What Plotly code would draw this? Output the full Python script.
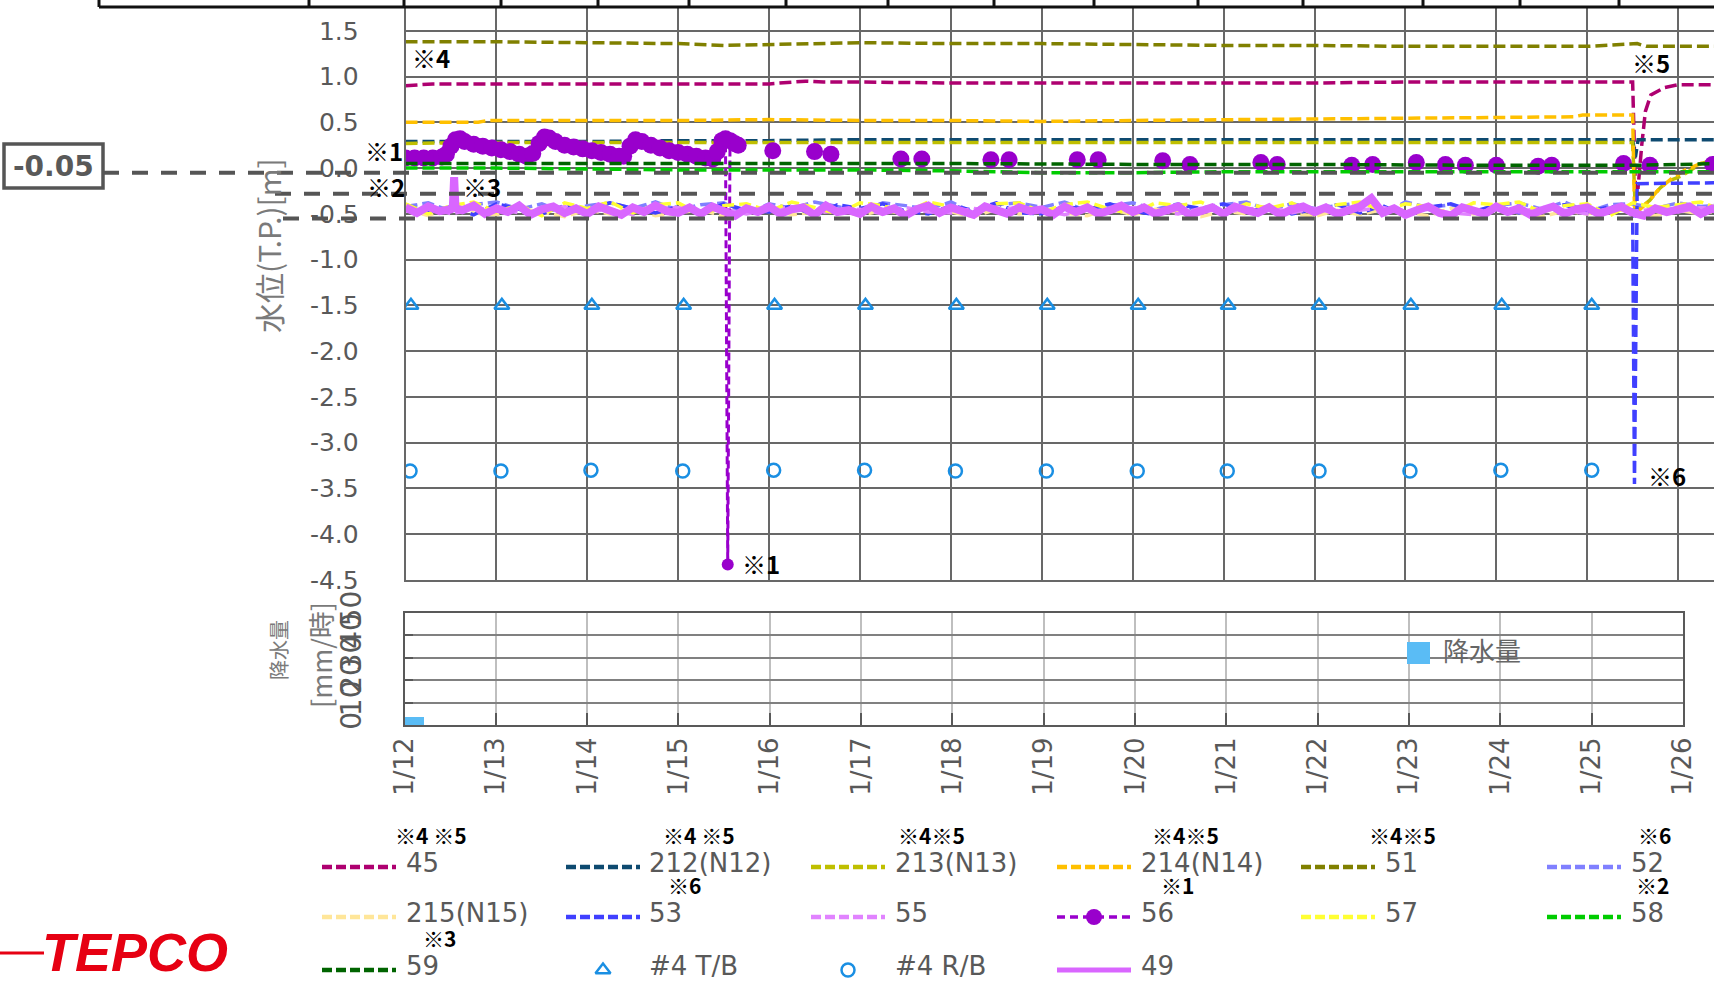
import plotly.graph_objects as go

W, H = 1714, 983

# ---------------- axes labels ----------------
day_ticks = list(range(12, 27))
day_labels = ["1/%d" % d for d in day_ticks]
level_ticks = [1.5, 1.0, 0.5, 0.0, -0.5, -1.0, -1.5, -2.0, -2.5, -3.0, -3.5, -4.0, -4.5]
level_labels = ["%.1f" % v for v in level_ticks]
rain_ticks = [0, 10, 20, 30, 40, 50]

# ---------------- water levels (T.P. m), x = day of January ----------------
t_45 = [12, 12.3, 13, 14, 15, 16, 16.4, 16.6, 17, 18, 19, 20, 21, 22, 23, 24, 25,
        25.50, 25.53, 25.56, 25.60, 25.64, 25.70, 25.85, 26.0, 26.5]
v_45 = [0.90, 0.92, 0.92, 0.92, 0.92, 0.92, 0.95, 0.94, 0.94, 0.93, 0.93, 0.93, 0.93,
        0.93, 0.94, 0.94, 0.94, 0.94, -0.21, -0.21, 0.25, 0.62, 0.80, 0.88, 0.91, 0.91]

t_212 = [12, 13, 14, 15, 16, 17, 18, 19, 20, 21, 22, 23, 24, 25, 25.50, 25.53, 25.56, 26, 26.5]
v_212 = [0.29, 0.29, 0.29, 0.30, 0.30, 0.31, 0.31, 0.31, 0.31, 0.31, 0.31, 0.31, 0.31,
         0.31, 0.31, 0.12, 0.31, 0.31, 0.31]

t_213 = [12, 13, 14, 15, 16, 17, 18, 19, 20, 21, 22, 23, 24, 25, 25.50, 25.53, 25.58,
         25.69, 25.80, 25.88, 26.05, 26.25, 26.5]
v_213 = [0.27, 0.28, 0.28, 0.28, 0.28, 0.28, 0.28, 0.28, 0.28, 0.28, 0.28, 0.28, 0.28,
         0.28, 0.28, -0.48, -0.44, -0.35, -0.22, -0.15, -0.08, 0.05, 0.12]

t_214 = [12, 12.8, 12.9, 15, 16, 17, 18, 19, 20, 21, 22, 23, 24, 24.85, 24.95, 25.50,
         25.52, 25.56, 25.66, 25.78, 25.92, 26.08, 26.25, 26.5]
v_214 = [0.50, 0.50, 0.52, 0.52, 0.53, 0.52, 0.52, 0.51, 0.52, 0.53, 0.54, 0.55, 0.56,
         0.56, 0.58, 0.58, -0.42, -0.47, -0.38, -0.24, -0.12, -0.02, 0.05, 0.09]

t_51 = [12, 13, 14, 15, 15.5, 16, 17, 18, 19, 20, 21, 22, 23, 24, 25, 25.55, 25.65, 26, 26.5]
v_51 = [1.38, 1.38, 1.37, 1.36, 1.34, 1.35, 1.37, 1.36, 1.36, 1.35, 1.34, 1.34, 1.33,
        1.33, 1.33, 1.36, 1.33, 1.33, 1.33]

t_58 = [12, 13, 14, 15, 16, 17, 18, 19, 20, 21, 22, 23, 24, 25, 26, 26.5]
v_58 = [0.00, 0.00, -0.01, -0.02, -0.02, -0.02, -0.03, -0.05, -0.05, -0.04, -0.04,
        -0.04, -0.04, -0.04, -0.04, -0.04]

t_59 = [12, 14, 16, 18, 20, 22, 24, 25.5, 26, 26.5]
v_59 = [0.05, 0.05, 0.05, 0.05, 0.04, 0.04, 0.03, 0.03, 0.04, 0.05]

# 6-hourly readings from 1/12 00:00
v_52 = [-0.42, -0.38, -0.47, -0.40, -0.37, -0.45, -0.39, -0.49, -0.41, -0.38, -0.44, -0.37,
        -0.46, -0.40, -0.38, -0.50, -0.39, -0.44, -0.37, -0.42, -0.48, -0.38, -0.41, -0.45,
        -0.37, -0.49, -0.40, -0.38, -0.43, -0.37, -0.47, -0.41, -0.38, -0.45, -0.39, -0.48,
        -0.40, -0.37, -0.46, -0.39, -0.44, -0.41, -0.38, -0.50, -0.37, -0.43, -0.40, -0.47,
        -0.41, -0.38, -0.45, -0.37, -0.48, -0.40, -0.39, -0.44, -0.38, -0.42, -0.40]
v_215 = [-0.45, -0.52, -0.43, -0.49, -0.51, -0.44, -0.48, -0.53, -0.46, -0.50, -0.43, -0.52,
         -0.49, -0.45, -0.53, -0.47, -0.44, -0.51, -0.48, -0.45, -0.52, -0.46, -0.50, -0.43,
         -0.48, -0.53, -0.45, -0.50, -0.46, -0.49, -0.52, -0.44, -0.51, -0.45, -0.48, -0.53,
         -0.47, -0.50, -0.44, -0.49, -0.53, -0.46, -0.51, -0.45, -0.48, -0.52, -0.44, -0.50,
         -0.45, -0.49, -0.53, -0.47, -0.50, -0.44, -0.48, -0.52, -0.46, -0.50, -0.45]
v_55 = [-0.47, -0.43, -0.50, -0.45, -0.44, -0.49, -0.46, -0.42, -0.48, -0.45, -0.51, -0.44,
        -0.43, -0.47, -0.45, -0.50, -0.46, -0.42, -0.49, -0.47, -0.45, -0.50, -0.43, -0.48,
        -0.49, -0.44, -0.47, -0.42, -0.46, -0.51, -0.45, -0.48, -0.43, -0.47, -0.50, -0.44,
        -0.48, -0.45, -0.42, -0.49, -0.44, -0.50, -0.46, -0.43, -0.47, -0.45, -0.49, -0.51,
        -0.45, -0.48, -0.43, -0.46, -0.50, -0.44, -0.47, -0.45, -0.48, -0.43, -0.46]
v_57 = [-0.39, -0.50, -0.41, -0.37, -0.48, -0.40, -0.52, -0.38, -0.44, -0.37, -0.49, -0.40,
        -0.38, -0.51, -0.41, -0.39, -0.47, -0.37, -0.43, -0.50, -0.38, -0.41, -0.49, -0.37,
        -0.42, -0.51, -0.39, -0.38, -0.48, -0.40, -0.37, -0.45, -0.50, -0.38, -0.41, -0.37,
        -0.49, -0.39, -0.44, -0.38, -0.51, -0.40, -0.37, -0.47, -0.39, -0.42, -0.50, -0.38,
        -0.40, -0.37, -0.48, -0.41, -0.39, -0.52, -0.38, -0.43, -0.40, -0.37, -0.46]
v_53_band = [-0.40, -0.48, -0.42, -0.51, -0.39, -0.45, -0.50, -0.41, -0.47, -0.38, -0.44,
             -0.49, -0.42, -0.50, -0.39, -0.46, -0.48, -0.41, -0.52, -0.40, -0.44, -0.39,
             -0.47, -0.50, -0.41, -0.46, -0.38, -0.49, -0.50, -0.42, -0.45, -0.39, -0.47,
             -0.51, -0.40, -0.44, -0.39, -0.48, -0.42, -0.50, -0.45, -0.40, -0.49, -0.41,
             -0.52, -0.43, -0.39, -0.47, -0.41, -0.49, -0.44, -0.40, -0.48, -0.42, -0.46]
t_53_tail = [25.52, 25.55, 26.0, 26.5]
v_53_tail = [-3.45, -0.17, -0.17, -0.16]

# 3-hourly readings from 1/12 00:00, plus a short-lived rise on 1/12
v_49 = [-0.43, -0.49, -0.42, -0.47, -0.45, -0.46, -0.41, -0.50,
        -0.44, -0.48, -0.41, -0.51, -0.45, -0.42, -0.49, -0.44,
        -0.50, -0.42, -0.46, -0.51, -0.43, -0.48, -0.41, -0.47,
        -0.49, -0.43, -0.50, -0.42, -0.47, -0.52, -0.44, -0.48,
        -0.42, -0.50, -0.45, -0.43, -0.51, -0.41, -0.48, -0.46,
        -0.50, -0.42, -0.48, -0.44, -0.52, -0.45, -0.41, -0.49,
        -0.43, -0.48, -0.51, -0.42, -0.46, -0.50, -0.43, -0.47,
        -0.45, -0.51, -0.42, -0.48, -0.43, -0.50, -0.46, -0.41,
        -0.48, -0.43, -0.50, -0.45, -0.42, -0.51, -0.47, -0.43,
        -0.50, -0.42, -0.46, -0.49, -0.43, -0.51, -0.45, -0.42,
        -0.48, -0.43, -0.50, -0.46, -0.42, -0.33, -0.49, -0.44,
        -0.51, -0.46, -0.42, -0.49, -0.52, -0.43, -0.47, -0.50,
        -0.42, -0.48, -0.44, -0.51, -0.46, -0.42, -0.50, -0.45,
        -0.43, -0.50, -0.46, -0.42, -0.49, -0.52, -0.44, -0.48,
        -0.45, -0.42, -0.50, -0.44, -0.47]
t_49_spike = [12.52, 12.535, 12.55]
v_49_spike = [-0.44, -0.10, -0.44]

# No.56: continuous record, then isolated readings
t_56_run = [12.00, 12.10, 12.20, 12.30, 12.40, 12.45, 12.50, 12.55, 12.60, 12.65, 12.75,
            12.85, 12.95, 13.05, 13.15, 13.25, 13.33, 13.40, 13.47, 13.53, 13.58, 13.65,
            13.75, 13.85, 13.95, 14.05, 14.15, 14.25, 14.35, 14.40, 14.47, 14.53, 14.60,
            14.70, 14.80, 14.90, 15.00, 15.10, 15.20, 15.30, 15.38, 15.43, 15.48, 15.52,
            15.545, 15.57, 15.62, 15.66]
v_56_run = [0.11, 0.11, 0.11, 0.11, 0.12, 0.15, 0.24, 0.31, 0.32, 0.29, 0.26,
            0.24, 0.22, 0.20, 0.18, 0.15, 0.13, 0.16, 0.27, 0.34, 0.33, 0.29,
            0.25, 0.23, 0.21, 0.19, 0.17, 0.15, 0.13, 0.13, 0.24, 0.31, 0.29,
            0.25, 0.22, 0.19, 0.17, 0.15, 0.13, 0.11, 0.10, 0.18, 0.30, 0.32,
            -4.33, 0.30, 0.27, 0.25]
t_56_pts = [16.04, 16.50, 16.68, 17.45, 17.68, 18.44, 18.64, 19.39, 19.62, 20.33, 20.63,
            21.41, 21.59, 22.41, 22.64, 23.12, 23.44, 23.66, 24.00, 24.46, 24.61, 25.40,
            25.69, 26.38]
v_56_pts = [0.19, 0.18, 0.15, 0.10, 0.10, 0.09, 0.09, 0.09, 0.09, 0.08, 0.04,
            0.06, 0.04, 0.03, 0.04, 0.06, 0.04, 0.03, 0.03, 0.02, 0.03, 0.05,
            0.03, 0.04]

# Unit 4 building levels
t_tb = [12.06, 13.06, 14.05, 15.06, 16.06, 17.06, 18.06, 19.06, 20.06, 21.05, 22.05,
        23.06, 24.06, 25.05]
v_tb = [-1.50, -1.50, -1.50, -1.50, -1.50, -1.50, -1.50, -1.50, -1.50, -1.50, -1.50,
        -1.50, -1.50, -1.50]
t_rb = [12.05, 13.05, 14.04, 15.05, 16.05, 17.05, 18.05, 19.05, 20.05, 21.04, 22.05,
        23.05, 24.05, 25.05]
v_rb = [-3.31, -3.31, -3.30, -3.31, -3.30, -3.30, -3.31, -3.31, -3.31, -3.31, -3.31,
        -3.31, -3.30, -3.30]

# hourly rainfall (mm/h)
rain_hour = [0, 1, 2, 3, 4]
rain_mm = [3.6, 3.6, 3.6, 3.6, 3.6]

# reference levels (T.P. m)
ref_levels = [-0.05, -0.28, -0.55]

# ---------------- styling ----------------
GRID = "#686868"
TXT = "#595959"
LAT = "DejaVu Sans"
CJK = "Noto Sans CJK JP"
DASH = "12px,5px"

colors = {
    "45": "#AE0070", "212(N12)": "#0E4A70", "213(N13)": "#BFBF00", "214(N14)": "#FFC000",
    "51": "#808000", "52": "#8080FF", "215(N15)": "#FFE699", "53": "#4040FF",
    "55": "#E183FF", "56": "#9900CC", "57": "#FFFF33", "58": "#00CC00", "59": "#006400",
    "#4 T/B": "#1A8FE3", "#4 R/B": "#1A8FE3", "49": "#D966FF",
}


def px_x(x):
    return x / W


def px_y(y):
    return 1 - y / H


t6 = [12 + 0.25 * i for i in range(len(v_52))]
t_53 = [12 + 0.25 * i for i in range(len(v_53_band))] + t_53_tail
v_53 = v_53_band + v_53_tail

pairs_49 = sorted(list(zip([12 + 0.125 * i for i in range(len(v_49))], v_49)) +
                  list(zip(t_49_spike, v_49_spike)))
t_49 = [p[0] for p in pairs_49]
y_49 = [p[1] for p in pairs_49]

x56, y56 = list(t_56_run), list(v_56_run)
for t, v in zip(t_56_pts, v_56_pts):
    x56 += [None, t]
    y56 += [None, v]
size56 = [12 if (v is not None and v < -4) else 17 for v in y56]

fig = go.Figure()

dashed_series = [
    ("45", t_45, v_45), ("212(N12)", t_212, v_212), ("213(N13)", t_213, v_213),
    ("214(N14)", t_214, v_214), ("51", t_51, v_51), ("52", t6, v_52),
    ("215(N15)", t6, v_215), ("53", t_53, v_53), ("55", t6, v_55),
]
for name, t, v in dashed_series:
    fig.add_trace(go.Scatter(x=t, y=v, mode="lines", name=name,
                             line=dict(color=colors[name], width=3.5, dash=DASH)))

fig.add_trace(go.Scatter(x=x56, y=y56, mode="lines+markers", name="56", connectgaps=False,
                         line=dict(color=colors["56"], width=3, dash="8px,4px"),
                         marker=dict(color=colors["56"], size=size56, opacity=1,
                                     line=dict(width=0))))

for name, t, v in [("57", t6, v_57), ("58", t_58, v_58), ("59", t_59, v_59)]:
    fig.add_trace(go.Scatter(x=t, y=v, mode="lines", name=name,
                             line=dict(color=colors[name], width=3.5, dash=DASH)))

fig.add_trace(go.Scatter(x=t_tb, y=v_tb, mode="markers", name="#4 T/B",
                         marker=dict(symbol="triangle-up-open", size=13, color=colors["#4 T/B"],
                                     line=dict(width=2.5, color=colors["#4 T/B"]))))
fig.add_trace(go.Scatter(x=t_rb, y=v_rb, mode="markers", name="#4 R/B",
                         marker=dict(symbol="circle-open", size=13, color=colors["#4 R/B"],
                                     line=dict(width=2.5, color=colors["#4 R/B"]))))
fig.add_trace(go.Scatter(x=t_49, y=y_49, mode="lines", name="49",
                         line=dict(color=colors["49"], width=8)))

# rainfall
fig.add_trace(go.Bar(x=[12 + (h + 0.5) / 24 for h in rain_hour], y=rain_mm, width=1 / 24,
                     name="降水量", marker=dict(color="#5ABCF5", line=dict(width=0)),
                     xaxis="x2", yaxis="y2"))

# ---------------- legend glyphs on a pixel overlay ----------------
legend_entries = [
    # row, col, label, note, note offset
    (0, 0, "45", "※4 ※5", -11), (0, 1, "212(N12)", "※4 ※5", 14),
    (0, 2, "213(N13)", "※4※5", 3), (0, 3, "214(N14)", "※4※5", 11),
    (0, 4, "51", "※4※5", -16), (0, 5, "52", "※6", 7),
    (1, 0, "215(N15)", "", 0), (1, 1, "53", "※6", 19), (1, 2, "55", "", 0),
    (1, 3, "56", "※1", 20), (1, 4, "57", "", 0), (1, 5, "58", "※2", 5),
    (2, 0, "59", "※3", 17), (2, 1, "#4 T/B", "", 0), (2, 2, "#4 R/B", "", 0),
    (2, 3, "49", "", 0),
]
col_line_x0 = [322, 566, 811, 1057, 1301, 1547]
col_text_x = [404, 647, 893, 1139, 1383, 1629]
row_text_y = [863, 913, 966]
LINE_LEN = 74

annotations = []
for row, col, label, note, ndx in legend_entries:
    x0 = col_line_x0[col]
    x1 = x0 + LINE_LEN
    ly = row_text_y[row] + 4
    c = colors[label]
    if label in ("#4 T/B", "#4 R/B"):
        sym = "triangle-up-open" if label == "#4 T/B" else "circle-open"
        fig.add_trace(go.Scatter(x=[(x0 + x1) / 2], y=[ly], mode="markers", xaxis="x3", yaxis="y3",
                                 marker=dict(symbol=sym, size=13, color=c, line=dict(width=2.5, color=c))))
    elif label == "49":
        fig.add_trace(go.Scatter(x=[x0, x1], y=[ly, ly], mode="lines", xaxis="x3", yaxis="y3",
                                 line=dict(color=c, width=5)))
    elif label == "56":
        fig.add_trace(go.Scatter(x=[x0, x1], y=[ly, ly], mode="lines", xaxis="x3", yaxis="y3",
                                 line=dict(color=c, width=3.5, dash="8px,5px")))
        fig.add_trace(go.Scatter(x=[(x0 + x1) / 2], y=[ly], mode="markers", xaxis="x3", yaxis="y3",
                                 marker=dict(color=c, size=16, opacity=1)))
    else:
        fig.add_trace(go.Scatter(x=[x0, x1], y=[ly, ly], mode="lines", xaxis="x3", yaxis="y3",
                                 line=dict(color=c, width=4.5, dash="10px,4px")))
    annotations.append(dict(x=col_text_x[col], y=row_text_y[row], xref="x3", yref="y3",
                            text=label, showarrow=False, xanchor="left", yanchor="middle",
                            font=dict(family=LAT, size=26, color=TXT)))
    if note:
        annotations.append(dict(x=col_text_x[col] + ndx, y=row_text_y[row] - 28, xref="x3", yref="y3",
                                text=note, showarrow=False, xanchor="left", yanchor="middle",
                                font=dict(family=CJK, size=21, color="#000000", weight="bold")))

# in-plot remarks
for text, x, y in [("※4", 431, 57), ("※1", 384, 150), ("※2", 386, 186), ("※3", 482, 186),
                   ("※5", 1651, 62), ("※6", 1667, 475), ("※1", 761, 563)]:
    annotations.append(dict(x=x, y=y, xref="x3", yref="y3", text=text, showarrow=False,
                            xanchor="center", yanchor="middle",
                            font=dict(family=CJK, size=24, color="#000000", weight="bold")))

# axis titles and captions
annotations += [
    dict(x=268, y=246, xref="x3", yref="y3", text="水位(T.P.)[m]", textangle=-90, showarrow=False,
         font=dict(family=CJK, size=30, color="#7a7a7a")),
    dict(x=278, y=650, xref="x3", yref="y3", text="降水量", textangle=-90, showarrow=False,
         font=dict(family=CJK, size=20, color="#7a7a7a")),
    dict(x=320, y=655, xref="x3", yref="y3", text="[mm/時]", textangle=-90, showarrow=False,
         font=dict(family=CJK, size=27, color="#7a7a7a")),
    dict(x=1441, y=649, xref="x3", yref="y3", text="降水量", showarrow=False, xanchor="left",
         font=dict(family=CJK, size=26, color="#666666")),
    dict(x=53.5, y=166, xref="x3", yref="y3", text="-0.05", showarrow=False,
         font=dict(family=LAT, size=28, color=TXT, weight="bold")),
    dict(x=40, y=952, xref="x3", yref="y3", text="TEPCO", showarrow=False, xanchor="left",
         font=dict(family="Liberation Sans", size=54, color="#E60012", weight="bold", style="italic")),
]

shapes = []
# reference levels
ref_x_start = [103, 275, 283]
for lvl, xs in zip(ref_levels, ref_x_start):
    shapes.append(dict(type="line", xref="x3", yref="y", x0=xs, x1=W, y0=lvl, y1=lvl,
                       line=dict(color="#555555", width=4, dash="16px,13px"), layer="above"))
shapes.append(dict(type="rect", xref="x3", yref="y3", x0=4, x1=103, y0=144, y1=188,
                   line=dict(color="#555555", width=3.5), fillcolor="white", layer="above"))
# frame of the table above the chart
table_edges = [99, 309, 404, 501, 598, 689, 786, 888, 994, 1094, 1198, 1303, 1423, 1520, 1619]
shapes.append(dict(type="line", xref="x3", yref="y3", x0=99, x1=W, y0=7, y1=7,
                   line=dict(color="#111111", width=3)))
for xe in table_edges:
    shapes.append(dict(type="line", xref="x3", yref="y3", x0=xe, x1=xe, y0=0, y1=7,
                       line=dict(color="#111111", width=3)))
# rainfall legend key
shapes.append(dict(type="rect", xref="x3", yref="y3", x0=1407, x1=1430, y0=642, y1=664,
                   fillcolor="#5ABCF5", line=dict(width=0)))
# logo rule
shapes.append(dict(type="line", xref="x3", yref="y3", x0=0, x1=44, y0=953, y1=953,
                   line=dict(color="#E60012", width=3)))

fig.update_layout(
    width=W, height=H, template="none", showlegend=False,
    margin=dict(l=0, r=0, t=0, b=0, pad=0),
    paper_bgcolor="white", plot_bgcolor="rgba(0,0,0,0)",
    annotations=annotations, shapes=shapes,
    xaxis=dict(domain=[px_x(405.5), 1], range=[12, 12 + (W - 405.5) / 90.9], anchor="y",
               tickvals=day_ticks, showticklabels=False, ticks="", showgrid=True,
               gridcolor=GRID, gridwidth=1.6, zeroline=False, showline=True,
               linecolor=GRID, linewidth=1.6),
    yaxis=dict(domain=[px_y(580), px_y(8)], range=[-4.5, 1.749], anchor="x",
               tickvals=level_ticks, ticktext=level_labels, ticks="", showgrid=True,
               gridcolor=GRID, gridwidth=1.6, zeroline=False, showline=True,
               linecolor=GRID, linewidth=1.6, ticklabelstandoff=40,
               tickfont=dict(family=LAT, size=25, color=TXT)),
    xaxis2=dict(domain=[px_x(404.5), px_x(1683)], range=[12, 26], anchor="y2",
                tickvals=day_ticks, ticktext=day_labels, tickangle=-90,
                ticks="inside", ticklen=12, tickwidth=2, tickcolor=TXT,
                showgrid=True, gridcolor="#BFBFBF", gridwidth=2, zeroline=False,
                showline=True, mirror=True, linecolor=TXT, linewidth=2,
                tickfont=dict(family=LAT, size=26, color=TXT)),
    yaxis2=dict(domain=[px_y(725), px_y(612.7)], range=[0, 50], anchor="x2",
                tickvals=rain_ticks, ticktext=[str(v) for v in rain_ticks], tickangle=-90,
                ticks="inside", ticklen=8, tickwidth=2, tickcolor=TXT,
                showgrid=True, gridcolor="#808080", gridwidth=2, zeroline=False,
                showline=True, mirror=True, linecolor=TXT, linewidth=2,
                ticklabelstandoff=30, tickfont=dict(family=LAT, size=28, color=TXT)),
    xaxis3=dict(domain=[0, 1], range=[0, W], visible=False, anchor="y3", fixedrange=True),
    yaxis3=dict(domain=[0, 1], range=[H, 0], visible=False, anchor="x3", fixedrange=True),
    bargap=0,
)

fig.write_html("out.html")
